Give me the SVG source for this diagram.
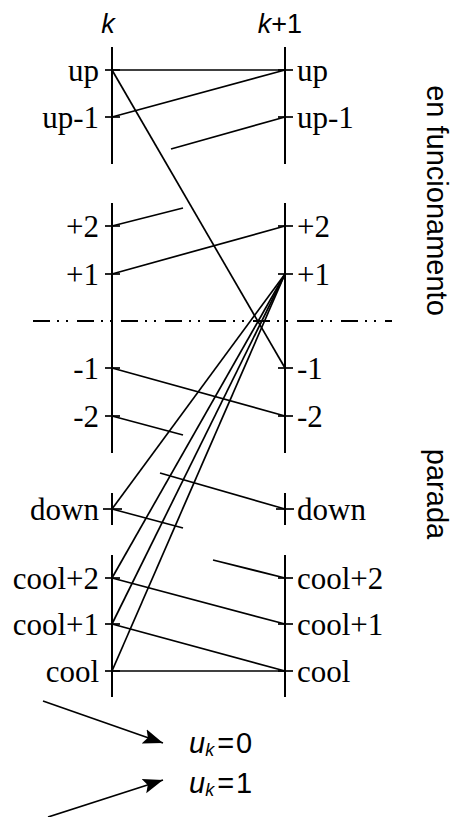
<svg xmlns="http://www.w3.org/2000/svg" width="454" height="817" viewBox="0 0 454 817">
<style>
.ax{stroke:#000;stroke-width:2;fill:none}
.tk{stroke:#000;stroke-width:1.7}
.cn{stroke:#000;stroke-width:1.7;fill:none}
.lb{font-size:31px;fill:#000}
.l{text-anchor:end}
.hd{font-size:27px;fill:#000}
.sd{font-size:29px;fill:#000}
.eq{font-size:29px;fill:#000}
.it{font-style:italic}
</style>
<defs>
<marker id="ah" markerUnits="userSpaceOnUse" markerWidth="22" markerHeight="18" refX="20" refY="9" orient="auto">
<path d="M0,1.5 L20,9 L0,16.5 L4,9 z" fill="#000"/>
</marker>
</defs>
<rect width="454" height="817" fill="#fff"/>
<g id="headers" font-family="Liberation Sans, Arial, sans-serif">
<text class="hd it" x="108" y="33" text-anchor="middle">k</text>
<text class="hd" x="280" y="33" text-anchor="middle"><tspan class="it">k</tspan>+1</text>
</g>
<g id="axes">
<line class="ax" x1="112" y1="47" x2="112" y2="164"/>
<line class="ax" x1="112" y1="203" x2="112" y2="453"/>
<line class="ax" x1="112" y1="493" x2="112" y2="525"/>
<line class="ax" x1="112" y1="555" x2="112" y2="697"/>
<line class="ax" x1="285" y1="47" x2="285" y2="164"/>
<line class="ax" x1="285" y1="203" x2="285" y2="453"/>
<line class="ax" x1="285" y1="493" x2="285" y2="525"/>
<line class="ax" x1="285" y1="555" x2="285" y2="697"/>
</g>
<g id="divider">
<line x1="33" y1="321" x2="392" y2="321" stroke="#000" stroke-width="2" stroke-dasharray="17 7 2 7 2 9"/>
</g>
<g id="states" font-family="Liberation Serif, Times New Roman, serif">
<g id="k-up"><line class="tk" x1="105" y1="70" x2="120" y2="70"/><text class="lb l" x="99" y="81">up</text></g>
<g id="k-up-1"><line class="tk" x1="105" y1="117" x2="120" y2="117"/><text class="lb l" x="99" y="128">up-1</text></g>
<g id="k-p2"><line class="tk" x1="105" y1="226" x2="120" y2="226"/><text class="lb l" x="99" y="237">+2</text></g>
<g id="k-p1"><line class="tk" x1="105" y1="274" x2="120" y2="274"/><text class="lb l" x="99" y="285">+1</text></g>
<g id="k-m1"><line class="tk" x1="105" y1="368" x2="120" y2="368"/><text class="lb l" x="99" y="379">-1</text></g>
<g id="k-m2"><line class="tk" x1="105" y1="416" x2="120" y2="416"/><text class="lb l" x="99" y="427">-2</text></g>
<g id="k-down"><line class="tk" x1="103" y1="509" x2="122" y2="509"/><text class="lb l" x="99" y="520">down</text></g>
<g id="k-cool2"><line class="tk" x1="105" y1="578" x2="120" y2="578"/><text class="lb l" x="99" y="589">cool+2</text></g>
<g id="k-cool1"><line class="tk" x1="105" y1="624" x2="120" y2="624"/><text class="lb l" x="99" y="635">cool+1</text></g>
<g id="k-cool"><line class="tk" x1="105" y1="671" x2="120" y2="671"/><text class="lb l" x="99" y="682">cool</text></g>
<g id="k1-up"><line class="tk" x1="278" y1="70" x2="293" y2="70"/><text class="lb" x="297" y="81">up</text></g>
<g id="k1-up-1"><line class="tk" x1="278" y1="117" x2="293" y2="117"/><text class="lb" x="297" y="128">up-1</text></g>
<g id="k1-p2"><line class="tk" x1="278" y1="226" x2="293" y2="226"/><text class="lb" x="297" y="237">+2</text></g>
<g id="k1-p1"><line class="tk" x1="278" y1="274" x2="293" y2="274"/><text class="lb" x="297" y="285">+1</text></g>
<g id="k1-m1"><line class="tk" x1="278" y1="368" x2="293" y2="368"/><text class="lb" x="297" y="379">-1</text></g>
<g id="k1-m2"><line class="tk" x1="278" y1="416" x2="293" y2="416"/><text class="lb" x="297" y="427">-2</text></g>
<g id="k1-down"><line class="tk" x1="276" y1="509" x2="294" y2="509"/><text class="lb" x="297" y="520">down</text></g>
<g id="k1-cool2"><line class="tk" x1="278" y1="578" x2="293" y2="578"/><text class="lb" x="297" y="589">cool+2</text></g>
<g id="k1-cool1"><line class="tk" x1="278" y1="624" x2="293" y2="624"/><text class="lb" x="297" y="635">cool+1</text></g>
<g id="k1-cool"><line class="tk" x1="278" y1="671" x2="293" y2="671"/><text class="lb" x="297" y="682">cool</text></g>
</g>
<g id="connectors">
<line class="cn" x1="112" y1="70" x2="285" y2="70"/>
<line class="cn" x1="112" y1="117" x2="285" y2="70"/>
<line class="cn" x1="171" y1="149" x2="285" y2="117"/>
<line class="cn" x1="112" y1="70" x2="285" y2="368"/>
<line class="cn" x1="112" y1="226" x2="183" y2="208"/>
<line class="cn" x1="112" y1="274" x2="285" y2="226"/>
<line class="cn" x1="112" y1="368" x2="285" y2="416"/>
<line class="cn" x1="112" y1="416" x2="183" y2="435"/>
<line class="cn" x1="285" y1="274" x2="112" y2="509"/>
<line class="cn" x1="285" y1="274" x2="112" y2="578"/>
<line class="cn" x1="285" y1="274" x2="112" y2="624"/>
<line class="cn" x1="285" y1="274" x2="112" y2="671"/>
<line class="cn" x1="160" y1="473" x2="285" y2="509"/>
<line class="cn" x1="112" y1="509" x2="183" y2="528"/>
<line class="cn" x1="213" y1="560" x2="285" y2="578"/>
<line class="cn" x1="112" y1="578" x2="285" y2="624"/>
<line class="cn" x1="112" y1="624" x2="285" y2="671"/>
<line class="cn" x1="112" y1="671" x2="285" y2="671"/>
</g>
<g id="side-labels" font-family="Liberation Sans, Arial, sans-serif">
<text class="sd" transform="translate(427,200.5) rotate(90)" text-anchor="middle">en funcionamento</text>
<text class="sd" transform="translate(427,494) rotate(90)" text-anchor="middle">parada</text>
</g>
<g id="legend-arrows">
<line class="cn" x1="43" y1="701" x2="163" y2="743" stroke-width="2" marker-end="url(#ah)"/>
<line class="cn" x1="48" y1="817" x2="163" y2="780" stroke-width="2" marker-end="url(#ah)"/>
</g>
<g id="legend" font-family="Liberation Sans, Arial, sans-serif">
<g id="legend-u0"><text class="eq" x="189" y="753"><tspan class="it">u</tspan><tspan class="it" font-size="18" dy="3">k</tspan><tspan dy="-3" dx="3">=</tspan><tspan dx="2">0</tspan></text></g>
<g id="legend-u1"><text class="eq" x="189" y="793"><tspan class="it">u</tspan><tspan class="it" font-size="18" dy="3">k</tspan><tspan dy="-3" dx="3">=</tspan><tspan dx="2">1</tspan></text></g>
</g>
</svg>
